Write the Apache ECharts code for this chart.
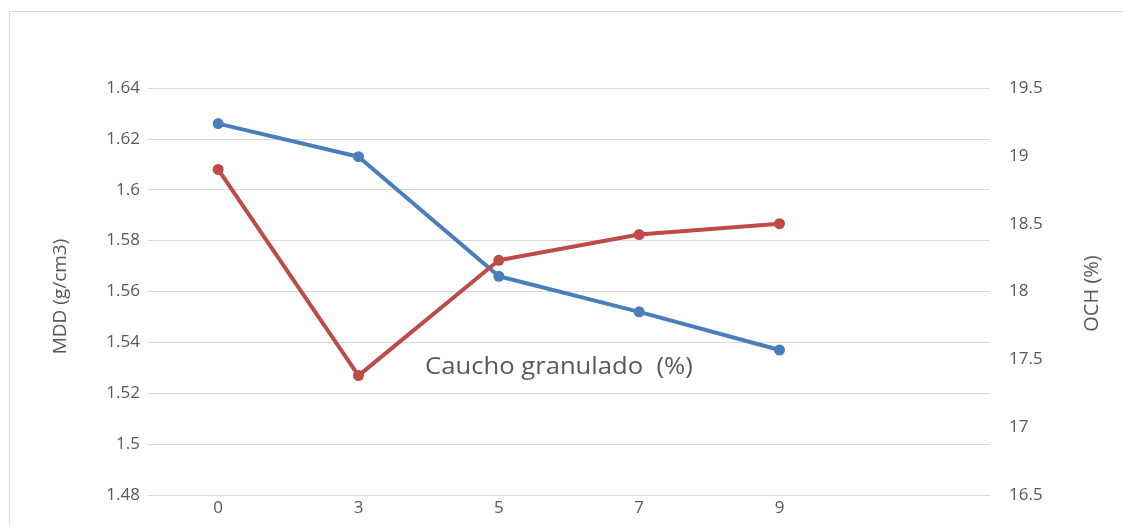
<!DOCTYPE html>
<html>
<head>
<meta charset="utf-8">
<script src="https://cdn.jsdelivr.net/npm/echarts@6/dist/echarts.min.js"></script>
<style>html,body{margin:0;padding:0;background:#fff}#c{width:1123px;height:525px}</style>
</head>
<body>
<div id="c"></div>
<script>
const categories = ['0', '3', '5', '7', '9', ''];
const mddValues = [1.626, 1.613, 1.566, 1.552, 1.537];
const ochValues = [18.9, 17.38, 18.23, 18.42, 18.5];
const leftTicks = [1.48, 1.5, 1.52, 1.54, 1.56, 1.58, 1.6, 1.62, 1.64];
const rightTicks = [16.5, 17, 17.5, 18, 18.5, 19, 19.5];
const xTitle = 'Caucho granulado  (%)';
const leftName = 'MDD (g/cm3)';
const rightName = 'OCH (%)';

const chart = echarts.init(document.getElementById('c'), null, {renderer: 'canvas'});
const font = 'Open Sans, Liberation Sans, sans-serif';
const gray = '#595959';
chart.setOption({
  animation: false,
  backgroundColor: '#fff',
  graphic: [
    {type: 'rect', shape: {x: 9.5, y: 11.5, width: 1200, height: 600}, style: {fill: 'none', stroke: '#d9d9d9', lineWidth: 1}, silent: true},
    {type: 'text', x: 425, y: 356, scaleX: 1.115, style: {text: xTitle, fontSize: 23, fontFamily: font, fill: gray}, z: 10}
  ],
  grid: {left: 148, right: 133, top: 88, bottom: 30, containLabel: false},
  xAxis: {
    type: 'category', data: categories, boundaryGap: true,
    axisLine: {show: true, lineStyle: {color: '#d9d9d9'}},
    axisTick: {show: false},
    axisLabel: {color: gray, fontSize: 17, fontFamily: font, margin: 5}
  },
  yAxis: [
    {
      type: 'value', min: leftTicks[0], max: leftTicks[leftTicks.length - 1], interval: 0.02,
      name: leftName, nameLocation: 'middle', nameRotate: 90, nameGap: 78,
      nameTextStyle: {color: gray, fontSize: 19, fontFamily: font, padding: [0, 10, 0, 0]},
      axisLine: {show: false}, axisTick: {show: false},
      axisLabel: {color: gray, fontSize: 17, fontFamily: font, margin: 8, formatter: v => String(+v.toFixed(2))},
      splitLine: {lineStyle: {color: '#d9d9d9', width: 1}}
    },
    {
      type: 'value', min: rightTicks[0], max: rightTicks[rightTicks.length - 1], interval: 0.5,
      name: rightName, nameLocation: 'middle', nameRotate: 90, nameGap: 92,
      nameTextStyle: {color: gray, fontSize: 20, fontFamily: font, padding: [0, 4, 0, 0]},
      axisLine: {show: false}, axisTick: {show: false},
      axisLabel: {color: gray, fontSize: 17, fontFamily: font, margin: 19, formatter: v => String(+v.toFixed(1))},
      splitLine: {show: false}
    }
  ],
  series: [
    {type: 'line', yAxisIndex: 0, data: mddValues, symbol: 'circle', symbolSize: 11,
     lineStyle: {color: '#4a7ebb', width: 4}, itemStyle: {color: '#4a7ebb'}},
    {type: 'line', yAxisIndex: 1, data: ochValues, symbol: 'circle', symbolSize: 11,
     lineStyle: {color: '#be4b48', width: 4}, itemStyle: {color: '#be4b48'}}
  ]
});
</script>
</body>
</html>
